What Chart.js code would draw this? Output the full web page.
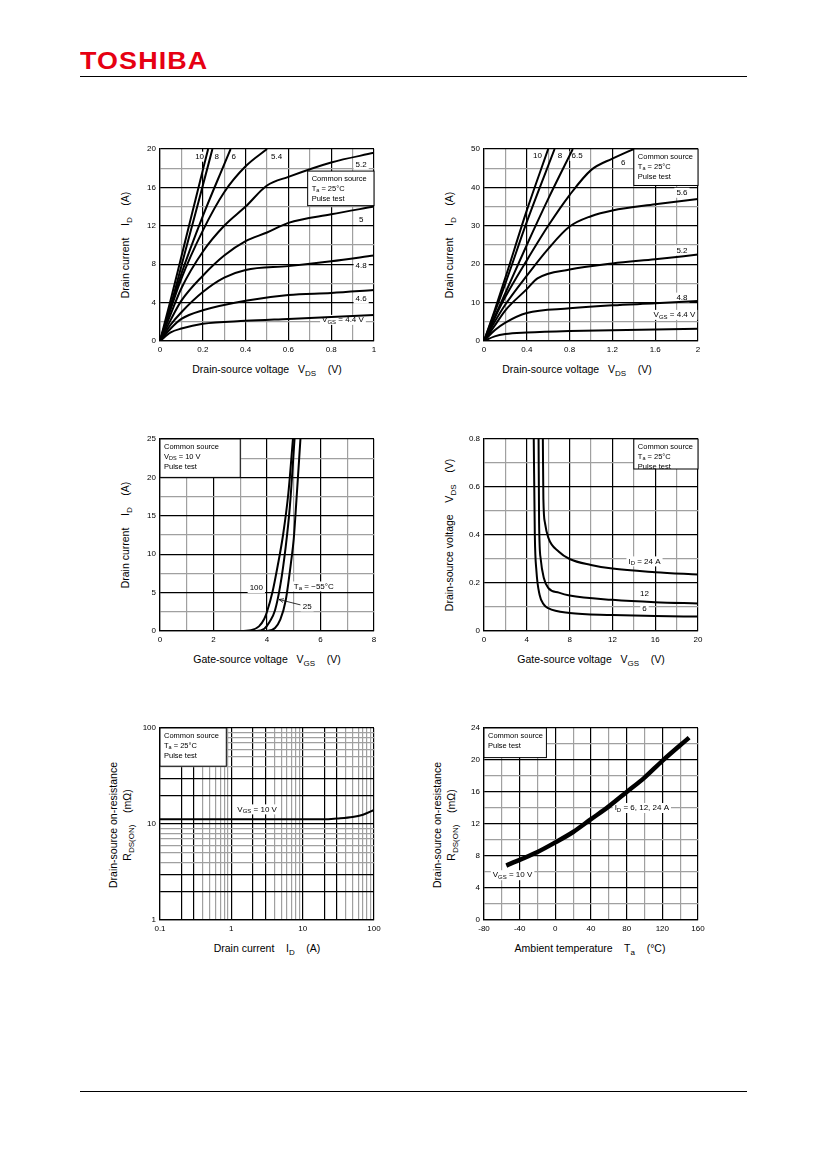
<!DOCTYPE html>
<html><head><meta charset="utf-8">
<script src="https://cdn.jsdelivr.net/npm/chart.js@4"></script>
<style>
body{margin:0;width:826px;height:1169px;position:relative;background:#fff;font-family:"Liberation Sans",Arial,sans-serif;overflow:hidden}
.logo{position:absolute;left:80px;top:47px;font-size:24px;font-weight:900;color:#e60012;letter-spacing:1px;transform:scaleX(1.12);transform-origin:left}
.rule{position:absolute;left:80px;width:667px;height:1px;background:#000}
canvas{position:absolute}
.t{position:absolute;font-size:10.5px;white-space:nowrap;color:#000}
.t sub{font-size:8px;vertical-align:-3px}
.ry{transform:translate(-50%,-50%) rotate(-90deg)}
.cx{transform:translate(-50%,-50%)}
</style></head><body>
<div class="logo">TOSHIBA</div>
<div class="rule" style="top:76px"></div>
<div class="rule" style="top:1091px"></div>

<div class="t cx" style="left:267px;top:370px">Drain-source voltage&nbsp;&nbsp; V<sub>DS</sub>&nbsp;&nbsp;&nbsp; (V)</div>
<div class="t ry" style="left:126px;top:245px">Drain current&nbsp;&nbsp;&nbsp; I<sub>D</sub>&nbsp;&nbsp;&nbsp; (A)</div>
<div class="t cx" style="left:577px;top:370px">Drain-source voltage&nbsp;&nbsp; V<sub>DS</sub>&nbsp;&nbsp;&nbsp; (V)</div>
<div class="t ry" style="left:450px;top:245px">Drain current&nbsp;&nbsp;&nbsp; I<sub>D</sub>&nbsp;&nbsp;&nbsp; (A)</div>
<div class="t cx" style="left:267px;top:660px">Gate-source voltage&nbsp;&nbsp; V<sub>GS</sub>&nbsp;&nbsp;&nbsp; (V)</div>
<div class="t ry" style="left:126px;top:535px">Drain current&nbsp;&nbsp;&nbsp; I<sub>D</sub>&nbsp;&nbsp;&nbsp; (A)</div>
<div class="t cx" style="left:591px;top:660px">Gate-source voltage&nbsp;&nbsp; V<sub>GS</sub>&nbsp;&nbsp;&nbsp; (V)</div>
<div class="t ry" style="left:450px;top:535px">Drain-source voltage&nbsp;&nbsp;&nbsp; V<sub>DS</sub>&nbsp;&nbsp;&nbsp; (V)</div>
<div class="t cx" style="left:267px;top:949px">Drain current&nbsp;&nbsp;&nbsp; I<sub>D</sub>&nbsp;&nbsp;&nbsp; (A)</div>
<div class="t ry" style="left:113px;top:825px">Drain-source on-resistance</div>
<div class="t ry" style="left:128px;top:825px">R<sub>DS(ON)</sub>&nbsp;&nbsp;&nbsp; (mΩ)</div>
<div class="t cx" style="left:590px;top:949px">Ambient temperature&nbsp;&nbsp;&nbsp; T<sub>a</sub>&nbsp;&nbsp;&nbsp; (°C)</div>
<div class="t ry" style="left:437px;top:825px">Drain-source on-resistance</div>
<div class="t ry" style="left:452px;top:825px">R<sub>DS(ON)</sub>&nbsp;&nbsp;&nbsp; (mΩ)</div>

<canvas id="c1"></canvas><canvas id="c2"></canvas><canvas id="c3"></canvas>
<canvas id="c4"></canvas><canvas id="c5"></canvas><canvas id="c6"></canvas>
<script>
// ---- data ----
const idVds1 = {
  "10":  [[0,0],[0.05,4.3],[0.1,8.8],[0.15,13.3],[0.2,17.8],[0.225,20]],
  "8":   [[0,0],[0.06,4.5],[0.12,9.5],[0.18,14.5],[0.245,20]],
  "6":   [[0,0],[0.05,3.5],[0.1,7],[0.2,13],[0.3,18.4],[0.33,20]],
  "5.4": [[0,0],[0.1,6.5],[0.2,11.5],[0.3,15.5],[0.4,18.2],[0.5,20]],
  "5.2": [[0,0],[0.05,2.8],[0.1,5.5],[0.2,9.3],[0.3,12],[0.4,14],[0.5,16.2],[0.6,17.1],[0.8,18.6],[1,19.6]],
  "5":   [[0,0],[0.05,2.2],[0.1,4.2],[0.2,6.8],[0.3,8.9],[0.4,10.4],[0.5,11.3],[0.6,12.3],[0.8,13.2],[1,14]],
  "4.8": [[0,0],[0.05,1.7],[0.1,3],[0.2,5.1],[0.3,6.6],[0.4,7.4],[0.6,7.8],[0.8,8.3],[1,8.9]],
  "4.6": [[0,0],[0.05,1.3],[0.1,2.3],[0.2,3.2],[0.4,4.2],[0.6,4.8],[0.8,5],[1,5.3]],
  "4.4": [[0,0],[0.05,0.9],[0.1,1.3],[0.2,1.8],[0.4,2.1],[0.6,2.3],[0.8,2.5],[1,2.7]]
};
const idVds2 = {
  "10":  [[0,0],[0.1,8],[0.2,16.5],[0.4,34],[0.6,50]],
  "8":   [[0,0],[0.2,15],[0.4,31],[0.66,50]],
  "6.5": [[0,0],[0.2,12.5],[0.4,25],[0.6,37],[0.83,50]],
  "6":   [[0,0],[0.1,6],[0.2,11.5],[0.4,21],[0.6,30],[0.8,38],[1,44.5],[1.2,47.5],[1.4,50]],
  "5.6": [[0,0],[0.1,5],[0.2,9.5],[0.4,17],[0.6,24],[0.8,29.8],[1,32.5],[1.2,34],[1.6,35.6],[2,37]],
  "5.2": [[0,0],[0.1,4],[0.2,8],[0.4,13.5],[0.5,16.3],[0.8,18.6],[1.2,20.2],[1.6,21.3],[2,22.5]],
  "4.8": [[0,0],[0.1,2.8],[0.2,4.8],[0.4,7.3],[0.8,8.5],[1.2,9.3],[1.6,9.8],[2,10.4]],
  "4.4": [[0,0],[0.1,1.2],[0.2,1.8],[0.4,2.2],[0.8,2.6],[1.2,2.8],[2,3.2]]
};
const idVgs = {
  "100": [[0,0],[3,0],[3.4,0.1],[3.7,0.6],[3.9,1.6],[4,2.5],[4.2,5],[4.4,8.5],[4.6,12.5],[4.8,18],[4.97,25]],
  "25":  [[0,0],[3.6,0],[3.9,0.3],[4.1,1.2],[4.3,2.7],[4.5,6],[4.7,11],[4.85,16],[5.03,25]],
  "-55": [[0,0],[4,0],[4.3,0.4],[4.5,1.5],[4.7,4],[4.9,9],[5,12],[5.1,17],[5.25,25]]
};
const vdsVgs = {
  "6":  [[4.65,0.8],[4.75,0.4],[4.9,0.25],[5.2,0.15],[5.6,0.11],[6,0.095],[8,0.075],[12,0.067],[16,0.062],[20,0.06]],
  "12": [[5.1,0.8],[5.15,0.45],[5.3,0.3],[5.6,0.22],[6,0.18],[7,0.16],[8,0.148],[12,0.13],[16,0.12],[20,0.115]],
  "24": [[5.5,0.8],[5.55,0.55],[5.7,0.45],[6,0.39],[7,0.33],[8,0.3],[10,0.275],[12,0.26],[16,0.245],[20,0.235]]
};
const rdsId = [[0.1,11.2],[20,11.2],[30,11.4],[50,11.8],[70,12.5],[100,14]];
const rdsTa = [[-55,6.8],[-20,8.5],[0,9.7],[20,11],[40,12.6],[60,14.2],[80,16],[100,17.8],[120,19.9],[150,22.8]];
const logTicksX = [0.1,0.2,0.3,0.4,0.5,0.6,0.7,0.8,0.9,1,2,3,4,5,6,7,8,9,10,20,30,40,50,60,70,80,90,100];
const logTicksY = [1,2,3,4,5,6,7,8,9,10,20,30,40,50,60,70,80,90,100];

const FONT = '"Liberation Sans", Arial, sans-serif';
const sub = (a, b, c) => [[a,0],[b,1],[c,0]];

function richWidth(ctx, parts, fs) {
  let w = 0;
  parts.forEach(([s, sb]) => { ctx.font = (sb ? fs - 2 : fs) + 'px ' + FONT; w += ctx.measureText(s).width; });
  return w;
}
function richDraw(ctx, parts, x, y, fs) {
  parts.forEach(([s, sb]) => {
    ctx.font = (sb ? fs - 2 : fs) + 'px ' + FONT;
    ctx.fillText(s, x, y + (sb ? 2.3 : 0));
    x += ctx.measureText(s).width;
  });
}

const notes = {
  id: 'notes',
  beforeDatasetsDraw(chart, args, o) {
    const ctx = chart.ctx, xs = chart.scales.x, ys = chart.scales.y;
    ctx.save();
    ctx.textBaseline = 'middle';
    (o.boxes || []).forEach(b => {
      const x1 = xs.getPixelForValue(b.x1), x2 = xs.getPixelForValue(b.x2);
      const y1 = ys.getPixelForValue(b.y1), y2 = ys.getPixelForValue(b.y2);
      ctx.fillStyle = '#fff'; ctx.fillRect(x1, y1, x2 - x1, y2 - y1);
      ctx.strokeStyle = '#000'; ctx.lineWidth = 1; ctx.strokeRect(x1, y1, x2 - x1, y2 - y1);
      ctx.fillStyle = '#000';
      b.lines.forEach((l, i) => richDraw(ctx, l, x1 + 4, y1 + 7.5 + i * 10, 7.5));
    });
    (o.labels || []).forEach(l => {
      const w = richWidth(ctx, l.t, 8);
      const x = xs.getPixelForValue(l.x) - w / 2, y = ys.getPixelForValue(l.y);
      ctx.fillStyle = '#fff'; ctx.fillRect(x - 2, y - 5, w + 4, 10);
      ctx.fillStyle = '#000'; richDraw(ctx, l.t, x, y, 8);
    });
    (o.arrows || []).forEach(a => {
      const x1 = xs.getPixelForValue(a[0]), y1 = ys.getPixelForValue(a[1]);
      const x2 = xs.getPixelForValue(a[2]), y2 = ys.getPixelForValue(a[3]);
      ctx.strokeStyle = '#000'; ctx.lineWidth = 0.8;
      ctx.beginPath(); ctx.moveTo(x1, y1); ctx.lineTo(x2, y2); ctx.stroke();
      const an = Math.atan2(y2 - y1, x2 - x1);
      ctx.beginPath(); ctx.moveTo(x2, y2);
      ctx.lineTo(x2 - 5 * Math.cos(an - 0.4), y2 - 5 * Math.sin(an - 0.4));
      ctx.moveTo(x2, y2);
      ctx.lineTo(x2 - 5 * Math.cos(an + 0.4), y2 - 5 * Math.sin(an + 0.4));
      ctx.stroke();
    });
    ctx.restore();
  }
};

function isMajor(v, major) { const r = v / major; return Math.abs(r - Math.round(r)) < 1e-6; }
function linAxis(min, max, step, major, fit) {
  return {
    type: 'linear', min, max,
    ticks: { stepSize: step, color: '#000', font: { size: 8, family: FONT }, padding: 4, maxRotation: 0, autoSkip: false,
      callback: v => isMajor(v, major) ? String(+v.toFixed(2)) : '' },
    grid: { color: c => isMajor(c.tick.value, major) ? '#000' : '#a0a0a0', lineWidth: 1.2, drawTicks: false },
    border: { color: '#000', width: 1.2 },
    afterFit: fit
  };
}
function logAxis(min, max, list, fit) {
  const black = [0.1,0.2,0.3,1,2,3,10,20,30,100];
  return {
    type: 'logarithmic', min, max,
    afterBuildTicks: s => { s.ticks = list.map(v => ({ value: v })); },
    ticks: { color: '#000', font: { size: 8, family: FONT }, padding: 4, maxRotation: 0, autoSkip: false,
      callback: v => [0.1,1,10,100].includes(v) ? String(v) : '' },
    grid: { color: c => black.includes(c.tick.value) ? '#000' : '#a0a0a0', lineWidth: 1.2, drawTicks: false },
    border: { color: '#000', width: 1.2 },
    afterFit: fit
  };
}
const fitY = s => { s.width = 40; };
const fitX = s => { s.height = 22; };

function make(id, left, top, xAxis, yAxis, series, width, notesOpt) {
  const cv = document.getElementById(id);
  const W = 214 + 40 + 14, H = 192 + 10 + 22;
  cv.style.left = (left - 40) + 'px'; cv.style.top = (top - 10) + 'px';
  cv.style.width = W + 'px'; cv.style.height = H + 'px';
  cv.width = W; cv.height = H;
  new Chart(cv, {
    type: 'line',
    data: { datasets: series.map(d => ({
      data: d.map(p => ({ x: p[0], y: p[1] })),
      borderColor: '#000', borderWidth: width, pointRadius: 0, cubicInterpolationMode: 'monotone', fill: false
    })) },
    options: {
      responsive: false, animation: false, devicePixelRatio: 1,
      layout: { padding: { top: 10, right: 14, left: 0, bottom: 0 } },
      plugins: { legend: { display: false }, tooltip: { enabled: false }, notes: notesOpt },
      scales: { x: xAxis, y: yAxis }
    },
    plugins: [notes]
  });
}

const commonTa = [[['Common source',0]], sub('T','a',' = 25°C'), [['Pulse test',0]]];

make('c1', 160, 149, linAxis(0, 1, 0.1, 0.2, fitX), linAxis(0, 20, 2, 4, fitY), Object.values(idVds1), 2, {
  boxes: [{ x1: 0.69, x2: 1, y1: 17.7, y2: 14.1, lines: commonTa }],
  labels: [
    { x: 0.185, y: 19.2, t: [['10',0]] }, { x: 0.265, y: 19.2, t: [['8',0]] }, { x: 0.345, y: 19.2, t: [['6',0]] },
    { x: 0.545, y: 19.2, t: [['5.4',0]] }, { x: 0.94, y: 18.4, t: [['5.2',0]] }, { x: 0.94, y: 12.6, t: [['5',0]] },
    { x: 0.94, y: 7.8, t: [['4.8',0]] }, { x: 0.94, y: 4.4, t: [['4.6',0]] }, { x: 0.855, y: 2.2, t: sub('V','GS',' = 4.4 V') }
  ]
});
make('c2', 484, 149, linAxis(0, 2, 0.2, 0.4, fitX), linAxis(0, 50, 5, 10, fitY), Object.values(idVds2), 2, {
  boxes: [{ x1: 1.4, x2: 2, y1: 50, y2: 40.5, lines: commonTa }],
  labels: [
    { x: 0.5, y: 48.2, t: [['10',0]] }, { x: 0.71, y: 48.2, t: [['8',0]] }, { x: 0.87, y: 48.2, t: [['6.5',0]] },
    { x: 1.3, y: 46.5, t: [['6',0]] }, { x: 1.85, y: 38.6, t: [['5.6',0]] }, { x: 1.85, y: 23.6, t: [['5.2',0]] },
    { x: 1.85, y: 11.3, t: [['4.8',0]] }, { x: 1.78, y: 6.8, t: sub('V','GS',' = 4.4 V') }
  ]
});
make('c3', 160, 439, linAxis(0, 8, 1, 2, fitX), linAxis(0, 25, 2.5, 5, fitY), Object.values(idVgs), 2, {
  boxes: [{ x1: 0, x2: 3, y1: 25, y2: 20, lines: [[['Common source',0]], sub('V','DS',' = 10 V'), [['Pulse test',0]]] }],
  labels: [
    { x: 3.6, y: 5.6, t: [['100',0]] }, { x: 5.75, y: 5.8, t: sub('T','a',' = −55°C') }, { x: 5.5, y: 3.2, t: [['25',0]] }
  ],
  arrows: [[5.25, 3.4, 4.45, 4.1]]
});
make('c4', 484, 439, linAxis(0, 20, 2, 4, fitX), linAxis(0, 0.8, 0.1, 0.2, fitY), Object.values(vdsVgs), 2, {
  boxes: [{ x1: 14, x2: 20, y1: 0.8, y2: 0.675, lines: commonTa }],
  labels: [
    { x: 15, y: 0.29, t: sub('I','D',' = 24 A') }, { x: 15, y: 0.155, t: [['12',0]] }, { x: 15, y: 0.092, t: [['6',0]] }
  ]
});
make('c5', 160, 728, logAxis(0.1, 100, logTicksX, fitX), logAxis(1, 100, logTicksY, fitY), [rdsId], 2, {
  boxes: [{ x1: 0.1, x2: 0.85, y1: 100, y2: 40, lines: commonTa }],
  labels: [{ x: 2.3, y: 14.2, t: sub('V','GS',' = 10 V') }]
});
make('c6', 484, 728, linAxis(-80, 160, 20, 40, fitX), linAxis(0, 24, 2, 4, fitY), [rdsTa], 4.5, {
  boxes: [{ x1: -80, x2: -10, y1: 24, y2: 20.3, lines: [[['Common source',0]], [['Pulse test',0]]] }],
  labels: [{ x: -48, y: 5.6, t: sub('V','GS',' = 10 V') }, { x: 97, y: 14, t: sub('I','D',' = 6, 12, 24 A') }]
});
</script>
</body></html>
